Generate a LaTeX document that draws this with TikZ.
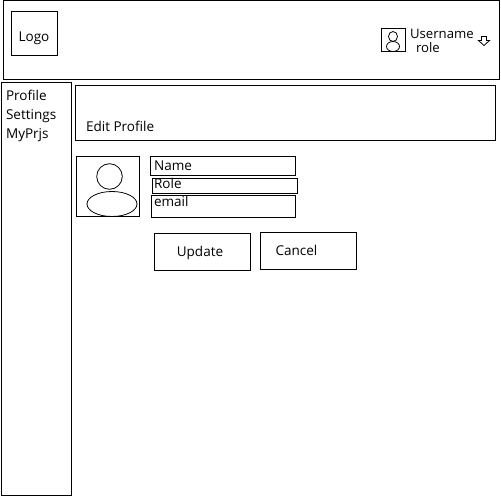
\documentclass[tikz,border=0pt]{standalone}
\usepackage{fontspec}
\setmainfont{Open Sans}
\tikzset{
    box/.style={draw, line width=0.45pt, inner sep=0pt},
    lbl/.style={anchor=base west, inner sep=0pt, font=\fontsize{7.7pt}{9pt}\selectfont},
    btn/.style={anchor=base, inner sep=0pt, font=\fontsize{7.7pt}{9pt}\selectfont},
}
\begin{document}
\begin{tikzpicture}[x=0.02cm, y=-0.02cm]
    \useasboundingbox (0,0) rectangle (500,500);
    \begin{scope}[shift={(0.5,0.5)}]
    % header
    \draw[box] (3,0) rectangle (499,79);
    \draw[box] (11,11) rectangle (57,55);
    \node[btn] (logo) at (33.5,41) {Logo};
    \draw[box] (381,28) rectangle (405,51);
    \draw[box] (392.5,36) circle [x radius=4.5, y radius=5];
    \draw[box] (392.5,46) ellipse [x radius=6.5, y radius=5];
    \node[lbl,font=\fontsize{7.5pt}{9pt}\selectfont] (username) at (409.2,38.5) {Username};
    \node[lbl,font=\fontsize{7.5pt}{9pt}\selectfont] (role) at (415.2,52.5) {role};
    \draw[box] (481,36) -- (486,36) -- (486,40) -- (489,40) -- (483.5,45) -- (478,40) -- (481,40) -- cycle;

    % side menu
    \draw[box] (1,82) rectangle (70.5,495);
    \node[lbl] (profile) at (5.2,100.5) {Profile};
    \node[lbl] (settings) at (5.2,118.5) {Settings};
    \node[lbl] (myprjs) at (5.2,137.5) {MyPrjs};

    % title
    \draw[box] (75,85) rectangle (495,140);
    \node[lbl] (title) at (85.2,131.5) {Edit Profile};

    % photo
    \draw[box] (76,156) rectangle (138.5,216);
    \draw[box] (109,176) circle [radius=12.8];
    \draw[box] (111.5,203.5) ellipse [x radius=25, y radius=12.5];

    % fields
    \draw[box] (150,156) rectangle (295,175);
    \draw[box] (152,178) rectangle (297,193);
    \draw[box] (151,195) rectangle (295,217);
    \node[lbl] (name) at (153.2,169.5) {Name};
    \node[lbl] (rolefield) at (153.2,187.5) {Role};
    \node[lbl] (email) at (153.2,205.5) {email};

    % buttons
    \draw[box] (154,233) rectangle (250,270);
    \draw[box] (260,232) rectangle (356,269);
    \node[btn] (update) at (199.5,255.5) {Update};
    \node[btn] (cancel) at (296,254.5) {Cancel};
    \end{scope}
\end{tikzpicture}
\end{document}
